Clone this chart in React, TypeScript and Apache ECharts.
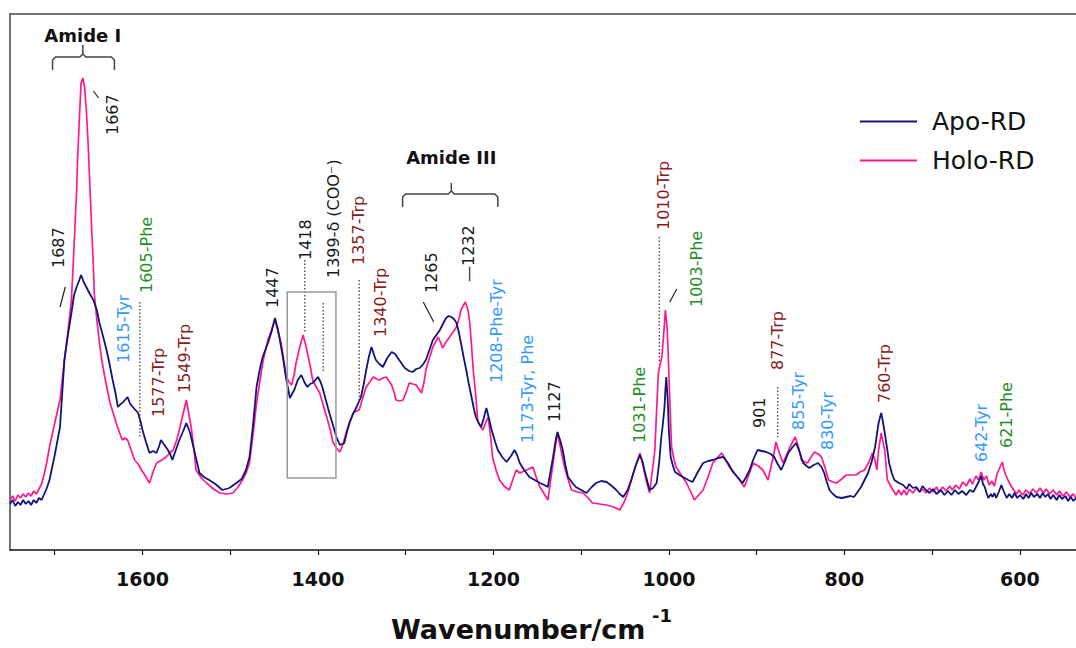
import React, { useEffect, useRef } from "react";
import * as echarts from "echarts";

// Raman spectra: [wavenumber (cm-1), intensity (a.u.)]
const apoRD: [number, number][] = [
  [1751, 46], [1748, 50], [1745, 44], [1742, 48], [1739, 45], [1736, 50], [1733, 46], [1730, 49], [1727, 45], [1724, 50],
  [1721, 47], [1718, 52], [1715, 50], [1712, 56], [1709, 62], [1706, 70], [1700, 95], [1694, 123], [1689, 190],
  [1685, 215], [1681, 237], [1678, 255], [1675, 263], [1672, 270], [1670, 275], [1667, 268], [1664, 263], [1660, 256], [1656, 250],
  [1652, 240], [1649, 227], [1645, 214], [1641, 200], [1638, 188], [1634, 170], [1631, 158], [1628, 143], [1625, 146], [1623, 147],
  [1620, 150], [1617, 153], [1614, 146], [1611, 143], [1608, 140], [1605, 137], [1602, 128], [1600, 120], [1596, 108], [1592, 97],
  [1588, 99], [1584, 97], [1581, 104], [1579, 110], [1575, 105], [1571, 100], [1568, 95], [1566, 90], [1562, 100], [1558, 110],
  [1554, 118], [1550, 127], [1546, 118], [1543, 107], [1539, 92], [1535, 77], [1530, 73], [1524, 70], [1517, 66], [1509, 60],
  [1501, 62], [1493, 67], [1487, 71], [1482, 80], [1478, 93], [1474, 125], [1470, 163], [1466, 182], [1463, 193], [1460, 200],
  [1457, 207], [1453, 218], [1449, 232], [1446, 222], [1444, 213], [1440, 193], [1436, 170], [1432, 152], [1429, 157], [1427, 160],
  [1423, 170], [1419, 175], [1415, 167], [1412, 163], [1409, 166], [1406, 167], [1403, 170], [1400, 173], [1397, 168], [1395, 163],
  [1391, 150], [1387, 137], [1383, 125], [1379, 113], [1375, 105], [1370, 107], [1367, 118], [1364, 127], [1360, 136], [1356, 143],
  [1351, 153], [1348, 165], [1345, 180], [1342, 193], [1339, 203], [1336, 195], [1334, 190], [1330, 186], [1326, 183], [1321, 192],
  [1316, 198], [1312, 196], [1309, 192], [1305, 187], [1301, 182], [1296, 179], [1292, 178], [1288, 181], [1284, 182], [1280, 186],
  [1277, 190], [1273, 200], [1269, 210], [1265, 215], [1261, 220], [1257, 227], [1254, 232], [1251, 234], [1248, 233], [1245, 231],
  [1242, 227], [1240, 220], [1237, 207], [1234, 193], [1231, 180], [1228, 166], [1225, 153], [1222, 140], [1220, 133], [1217, 127],
  [1214, 123], [1211, 132], [1208, 142], [1205, 131], [1202, 120], [1198, 108], [1195, 100], [1190, 93], [1185, 88], [1180, 94],
  [1176, 100], [1173, 95], [1170, 87], [1165, 80], [1159, 73], [1153, 70], [1147, 67], [1142, 65], [1138, 63], [1135, 78],
  [1132, 93], [1129, 110], [1127, 118], [1124, 110], [1121, 100], [1118, 85], [1115, 73], [1110, 67], [1106, 63], [1100, 60],
  [1094, 57], [1088, 63], [1083, 67], [1077, 69], [1071, 68], [1065, 64], [1060, 60], [1056, 56], [1052, 53], [1047, 60],
  [1043, 70], [1038, 84], [1033, 95], [1030, 88], [1028, 80], [1025, 70], [1022, 60], [1018, 62], [1014, 67], [1011, 88],
  [1009, 110], [1007, 125], [1005, 143], [1004, 160], [1003, 173], [1002, 160], [1001, 143], [1000, 118], [998, 93], [995, 83],
  [993, 78], [988, 75], [984, 73], [978, 70], [973, 68], [967, 78], [961, 87], [955, 89], [950, 90], [944, 92],
  [938, 93], [932, 86], [927, 78], [921, 72], [916, 67], [912, 73], [908, 80], [904, 90], [899, 100], [894, 99],
  [889, 98], [884, 96], [880, 93], [876, 86], [872, 80], [868, 88], [864, 97], [859, 103], [855, 107], [851, 98],
  [847, 87], [843, 84], [840, 82], [835, 85], [830, 87], [826, 83], [823, 77], [820, 68], [817, 60], [813, 56],
  [809, 53], [803, 52], [798, 53], [793, 54], [789, 53], [785, 58], [781, 63], [777, 70], [773, 77], [769, 88],
  [765, 103], [763, 115], [761, 127], [759, 134], [758, 137], [756, 128], [754, 117], [751, 100], [749, 87], [746, 77],
  [743, 70], [738, 67], [733, 65], [729, 61], [726, 66], [722, 62], [718, 63], [714, 58], [711, 64], [707, 60],
  [703, 57], [699, 61], [695, 56], [690, 60], [686, 55], [682, 59], [678, 55], [674, 60], [670, 56], [666, 59],
  [661, 55], [657, 60], [653, 58], [650, 63], [647, 68], [644, 74], [642, 66], [640, 63], [638, 57], [636, 52],
  [633, 56], [631, 53], [629, 57], [627, 52], [624, 58], [621, 65], [619, 60], [617, 56], [615, 52], [612, 56],
  [609, 52], [606, 57], [603, 52], [600, 55], [596, 51], [593, 56], [590, 52], [587, 57], [584, 53], [580, 56],
  [577, 52], [574, 57], [571, 53], [568, 56], [565, 51], [562, 55], [558, 50], [555, 55], [552, 51], [548, 54],
  [545, 49], [542, 53], [539, 49], [536, 52],
];

const holoRD: [number, number][] = [
  [1751, 50], [1748, 54], [1745, 49], [1742, 55], [1739, 52], [1736, 56], [1733, 53], [1730, 57], [1727, 54], [1724, 59],
  [1721, 56], [1718, 61], [1715, 66], [1712, 76], [1709, 88], [1706, 103], [1700, 127], [1694, 150], [1689, 190],
  [1685, 218], [1681, 250], [1679, 285], [1677, 323], [1675, 360], [1674, 390], [1672, 430], [1670, 467], [1668, 472], [1666, 463],
  [1664, 440], [1662, 407], [1660, 365], [1658, 323], [1656, 285], [1655, 257], [1652, 230], [1649, 207], [1646, 188], [1643, 173],
  [1640, 160], [1637, 147], [1633, 136], [1630, 127], [1626, 117], [1623, 110], [1620, 112], [1617, 110], [1613, 100], [1609, 90],
  [1605, 86], [1601, 80], [1596, 73], [1592, 67], [1588, 78], [1584, 87], [1578, 90], [1573, 93], [1569, 97], [1565, 100],
  [1561, 110], [1558, 120], [1554, 135], [1550, 150], [1547, 135], [1544, 120], [1541, 98], [1539, 80], [1533, 72], [1527, 67],
  [1519, 61], [1512, 57], [1504, 56], [1497, 57], [1491, 63], [1486, 70], [1482, 77], [1478, 87], [1474, 115], [1470, 147],
  [1466, 170], [1463, 187], [1460, 199], [1457, 210], [1453, 220], [1449, 230], [1446, 220], [1442, 207], [1439, 190], [1436, 173],
  [1433, 168], [1430, 165], [1427, 176], [1425, 187], [1421, 202], [1417, 215], [1414, 205], [1411, 193], [1408, 180], [1406, 170],
  [1402, 163], [1398, 157], [1394, 145], [1390, 133], [1386, 120], [1383, 108], [1379, 102], [1375, 98], [1371, 107], [1368, 117],
  [1364, 128], [1360, 137], [1356, 139], [1353, 140], [1349, 152], [1345, 163], [1341, 168], [1337, 173], [1333, 171], [1330, 170],
  [1326, 172], [1322, 173], [1319, 169], [1316, 165], [1313, 157], [1311, 150], [1307, 149], [1303, 150], [1299, 159], [1296, 167],
  [1292, 166], [1288, 165], [1285, 161], [1282, 157], [1279, 168], [1277, 180], [1273, 192], [1269, 203], [1266, 208], [1263, 213],
  [1260, 207], [1258, 202], [1254, 208], [1250, 213], [1246, 218], [1242, 223], [1239, 232], [1237, 240], [1234, 245], [1232, 248],
  [1229, 240], [1227, 227], [1225, 205], [1223, 180], [1220, 153], [1218, 130], [1215, 124], [1212, 120], [1209, 127], [1206, 133],
  [1203, 112], [1201, 93], [1197, 80], [1193, 70], [1188, 64], [1182, 60], [1178, 70], [1174, 80], [1170, 77], [1162, 80],
  [1155, 83], [1151, 72], [1147, 63], [1142, 56], [1138, 50], [1135, 68], [1132, 87], [1129, 106], [1127, 117], [1123, 100],
  [1119, 83], [1115, 71], [1111, 60], [1104, 58], [1098, 57], [1092, 52], [1087, 47], [1079, 46], [1071, 45], [1063, 43],
  [1056, 40], [1051, 48], [1047, 57], [1042, 72], [1037, 87], [1033, 97], [1029, 83], [1026, 70], [1022, 57], [1019, 78],
  [1016, 100], [1014, 140], [1012, 177], [1010, 186], [1008, 193], [1006, 215], [1004, 240], [1002, 222], [1001, 200], [999, 150],
  [997, 103], [994, 90], [992, 83], [986, 75], [980, 67], [975, 58], [971, 50], [966, 55], [961, 60], [955, 74],
  [950, 87], [945, 92], [940, 97], [935, 90], [931, 83], [926, 78], [922, 73], [918, 68], [914, 63], [909, 75],
  [904, 87], [898, 84], [893, 80], [890, 75], [887, 70], [884, 82], [881, 93], [878, 108], [874, 97], [870, 87],
  [866, 95], [862, 103], [859, 108], [856, 113], [852, 102], [849, 90], [845, 88], [842, 87], [838, 93], [834, 98],
  [830, 96], [826, 93], [822, 82], [818, 70], [813, 68], [809, 67], [803, 71], [798, 75], [793, 75], [787, 75],
  [782, 78], [777, 80], [772, 88], [768, 97], [765, 89], [763, 80], [761, 100], [758, 117], [756, 108], [754, 100],
  [751, 70], [746, 62], [741, 55], [738, 60], [735, 55], [732, 60], [729, 55], [726, 61], [722, 57], [718, 62],
  [714, 58], [711, 61], [707, 57], [703, 62], [699, 58], [695, 63], [692, 58], [688, 63], [684, 59], [680, 64],
  [677, 60], [673, 65], [669, 61], [665, 68], [661, 64], [657, 71], [654, 66], [650, 74], [647, 70], [644, 78],
  [641, 70], [638, 74], [635, 65], [632, 69], [629, 64], [626, 76], [623, 82], [620, 88], [618, 80], [616, 75],
  [613, 69], [610, 64], [607, 60], [604, 56], [601, 60], [597, 55], [593, 60], [589, 56], [585, 61], [581, 57],
  [577, 62], [573, 57], [570, 61], [566, 56], [562, 60], [558, 55], [555, 59], [551, 54], [547, 58], [543, 53],
  [539, 56], [536, 52],
];

const xTicks = [1700, 1600, 1500, 1400, 1300, 1200, 1100, 1000, 900, 800, 700, 600];
const xLabels = [1600, 1400, 1200, 1000, 800, 600];

const C_BLACK = "#1a1a1a";
const C_BLUE = "#3399ff";
const C_GREEN = "#1f8f1f";
const C_RED = "#8b1a1a";

// peak labels: text, wavenumber at text centre, intensity at text start (bottom)
const peakLabels = [
  { text: "1687", wn: 1696, y: 282, color: C_BLACK },
  { text: "1667", wn: 1634, y: 415, color: C_BLACK },
  { text: "1615-Tyr", wn: 1622, y: 187, color: C_BLUE },
  { text: "1605-Phe", wn: 1595, y: 257, color: C_GREEN },
  { text: "1577-Trp", wn: 1582, y: 133, color: C_RED },
  { text: "1549-Trp", wn: 1552, y: 157, color: C_RED },
  { text: "1447", wn: 1452, y: 242, color: C_BLACK },
  { text: "1418", wn: 1414, y: 290, color: C_BLACK },
  { text: "1399-δ (COO⁻)", wn: 1382, y: 272, color: C_BLACK },
  { text: "1357-Trp", wn: 1354, y: 285, color: C_RED },
  { text: "1340-Trp", wn: 1329, y: 213, color: C_RED },
  { text: "1265", wn: 1271, y: 257, color: C_BLACK },
  { text: "—1232", wn: 1228, y: 268, color: C_BLACK },
  { text: "1208-Phe-Tyr", wn: 1196, y: 167, color: C_BLUE },
  { text: "1173-Tyr, Phe", wn: 1161, y: 107, color: C_BLUE },
  { text: "1127", wn: 1130, y: 128, color: C_BLACK },
  { text: "1031-Phe", wn: 1033, y: 107, color: C_GREEN },
  { text: "1010-Trp", wn: 1006, y: 320, color: C_RED },
  { text: "1003-Phe", wn: 969, y: 243, color: C_GREEN },
  { text: "901", wn: 897, y: 122, color: C_BLACK },
  { text: "877-Trp", wn: 876, y: 180, color: C_RED },
  { text: "855-Tyr", wn: 852, y: 120, color: C_BLUE },
  { text: "830-Tyr", wn: 819, y: 100, color: C_BLUE },
  { text: "760-Trp", wn: 754, y: 147, color: C_RED },
  { text: "642-Tyr", wn: 644, y: 88, color: C_BLUE },
  { text: "621-Phe", wn: 615, y: 102, color: C_GREEN },
];

// dotted leaders: wavenumber, from intensity, to intensity
const dottedLeaders = [
  { wn: 1603, y1: 248, y2: 113 },
  { wn: 1415, y1: 290, y2: 217 },
  { wn: 1394, y1: 247, y2: 178 },
  { wn: 1353, y1: 270, y2: 150 },
  { wn: 1011, y1: 313, y2: 187 },
  { wn: 876, y1: 163, y2: 113 },
];

// short solid leaders
const solidLeaders = [
  { a: [1694, 243], b: [1688, 263] },
  { a: [1656, 459], b: [1650, 452] },
  { a: [1280, 248], b: [1268, 228] },
  { a: [999, 248], b: [991, 261] },
];

// bracket groups
const brackets = [
  { label: "Amide I", left: 1702.5, right: 1632, mid: 1668, bar: 493, end: 480, tip: 505, labelY: 515 },
  { label: "Amide III", left: 1303.5, right: 1195, mid: 1248, bar: 356, end: 343, tip: 367, labelY: 393 },
];

// highlighted region box (wavenumber range and intensity range)
const boxRegion = { wn1: 1435, wn2: 1379.5, y1: 258, y2: 72 };

const FONT = "DejaVu Sans, Verdana, sans-serif";

export default function App() {
  const ref = useRef<HTMLDivElement>(null);

  useEffect(() => {
    if (!ref.current) return;
    const chart = echarts.init(ref.current, undefined, { renderer: "svg" });
    const option: any = {
      animation: false,
      backgroundColor: "#ffffff",
      grid: { left: 10, right: 0, top: 14, bottom: 98, containLabel: false },
      legend: {
        data: ["Apo-RD", "Holo-RD"],
        orient: "vertical",
        left: 860,
        top: 109,
        icon: "rect",
        itemWidth: 57,
        itemHeight: 2,
        itemGap: 14,
        padding: 0,
        textStyle: { fontSize: 25, color: "#111", fontFamily: FONT, padding: [0, 0, 0, 10], lineHeight: 25 },
      },
      xAxis: [
        {
          type: "value",
          inverse: true,
          min: 536,
          max: 1751,
          axisLine: { show: true, onZero: false, lineStyle: { color: "#111", width: 1.5 } },
          axisTick: { show: true, customValues: xTicks, length: 5, lineStyle: { color: "#111", width: 1.2 } },
          axisLabel: {
            show: true,
            customValues: xLabels,
            formatter: (v: number) => String(v),
            fontSize: 19,
            fontWeight: "bold",
            color: "#111",
            fontFamily: FONT,
            margin: 19,
          },
          splitLine: { show: false },
        },
        {
          type: "value",
          inverse: true,
          position: "top",
          min: 536,
          max: 1751,
          axisLine: { show: true, onZero: false, lineStyle: { color: "#444", width: 1.5 } },
          axisTick: { show: false },
          axisLabel: { show: false },
          splitLine: { show: false },
        },
      ],
      yAxis: {
        type: "value",
        min: 0,
        max: 536,
        axisLine: { show: true, onZero: false, lineStyle: { color: "#444", width: 1.5 } },
        axisTick: { show: false },
        axisLabel: { show: false },
        splitLine: { show: false },
      },
      series: [
        {
          name: "Holo-RD",
          type: "line",
          data: holoRD,
          showSymbol: false,
          symbol: "none",
          color: "#ff1a8c",
          lineStyle: { color: "#ff1a8c", width: 1.7 },
        },
        {
          name: "Apo-RD",
          type: "line",
          data: apoRD,
          showSymbol: false,
          symbol: "none",
          color: "#13137e",
          lineStyle: { color: "#13137e", width: 1.8 },
        },
      ],
    };
    chart.setOption(option);

    const px = (wn: number, y: number) => chart.convertToPixel({ xAxisIndex: 0, yAxisIndex: 0 }, [wn, y]) as number[];

    const elements: any[] = [];
    peakLabels.forEach((p) => {
      const [x, y] = px(p.wn, p.y);
      elements.push({
        type: "text",
        x,
        y,
        rotation: Math.PI / 2,
        style: { text: p.text, fill: p.color, font: `16px ${FONT}`, align: "left", verticalAlign: "middle" },
        z: 10,
      });
    });
    dottedLeaders.forEach((d) => {
      const [x1, y1] = px(d.wn, d.y1);
      const [, y2] = px(d.wn, d.y2);
      elements.push({
        type: "line",
        shape: { x1, y1, x2: x1, y2 },
        style: { stroke: "#333", lineWidth: 1.2, lineDash: [1.5, 2] },
        z: 10,
      });
    });
    solidLeaders.forEach((s) => {
      const [x1, y1] = px(s.a[0], s.a[1]);
      const [x2, y2] = px(s.b[0], s.b[1]);
      elements.push({ type: "line", shape: { x1, y1, x2, y2 }, style: { stroke: "#222", lineWidth: 1.2 }, z: 10 });
    });
    brackets.forEach((b) => {
      const [L, yEnd] = px(b.left, b.end);
      const [R] = px(b.right, b.end);
      const [N, yTip] = px(b.mid, b.tip);
      const [, yBar] = px(b.left, b.bar);
      const r = 3;
      elements.push({
        type: "polyline",
        shape: {
          points: [
            [L, yEnd], [L, yBar + r], [L + r, yBar], [N - r, yBar], [N, yBar - r], [N, yTip],
            [N, yBar - r], [N + r, yBar], [R - r, yBar], [R, yBar + r], [R, yEnd],
          ],
        },
        style: { stroke: "#444", lineWidth: 1.5, fill: "none" },
        z: 10,
      });
      const [lx, ly] = px(b.mid, b.labelY);
      elements.push({
        type: "text",
        x: lx,
        y: ly,
        style: { text: b.label, fill: "#111", font: `bold 18px ${FONT}`, align: "center", verticalAlign: "middle" },
        z: 10,
      });
    });
    {
      const [x1, y1] = px(boxRegion.wn1, boxRegion.y1);
      const [x2, y2] = px(boxRegion.wn2, boxRegion.y2);
      elements.push({
        type: "rect",
        shape: { x: x1, y: y1, width: x2 - x1, height: y2 - y1 },
        style: { stroke: "#999", lineWidth: 1.5, fill: "none" },
        z: 10,
      });
    }
    // axis title
    elements.push({
      type: "text",
      x: 391,
      y: 643,
      style: { text: "Wavenumber/cm", fill: "#111", font: `bold 27px ${FONT}`, align: "left", verticalAlign: "bottom" },
      z: 10,
    });
    elements.push({
      type: "text",
      x: 652,
      y: 624,
      style: { text: "-1", fill: "#111", font: `bold 18px ${FONT}`, align: "left", verticalAlign: "bottom" },
      z: 10,
    });

    chart.setOption({ graphic: { elements } });

    return () => chart.dispose();
  }, []);

  return (
    <div
      ref={ref}
      style={{ position: "absolute", left: 0, top: 0, width: 1076, height: 648, background: "#fff" }}
    />
  );
}
